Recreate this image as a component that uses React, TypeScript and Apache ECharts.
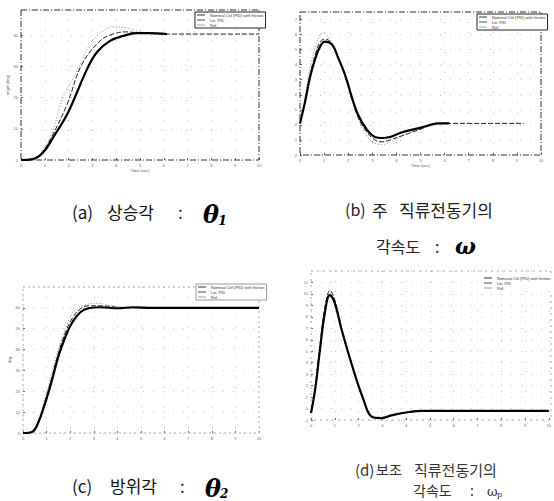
import React, { useEffect, useRef } from "react";
import * as echarts from "echarts";

// ---------- data ----------
const legendNames = ["Nominal Ctrl (PID) with friction", "Lin. PID", "Ref."];

// (a) elevation angle
const aSolidT = [0, 0.5, 0.92, 1.34, 1.93, 2.35, 2.77, 3.19, 3.74, 4.29, 4.87, 5.4, 6.13];
const aSolidY = [0, 0.3, 2.3, 7.1, 14.5, 21.6, 29, 34.5, 38.1, 39.7, 40.6, 40.6, 40.3];
const aDashT = [0, 0.5, 0.92, 1.34, 1.93, 2.56, 3.32, 3.87, 4.45, 5.0, 5.6, 6.2, 8, 10];
const aDashY = [0, 0.4, 2.8, 8.2, 17.7, 30.6, 38.1, 40.3, 41, 40.6, 40.4, 40.3, 40.3, 40.3];
const aDotT = [0, 0.5, 0.92, 1.34, 1.76, 2.35, 2.9, 3.45, 3.87, 4.45, 4.87, 5.4, 6.1];
const aDotY = [0, 0.5, 3.2, 9.5, 20, 28.4, 37.1, 41.3, 42.6, 42.3, 41.3, 40.6, 40.4];

// (b) main DC motor angular velocity
const bSolidT = [0, 0.21, 0.41, 0.62, 0.83, 1.04, 1.33, 1.58, 1.87, 2.16, 2.41, 2.78, 3.11, 3.4, 3.73, 4.27, 4.98, 5.52, 5.7, 6.2];
const bSolidY = [0.1, 1.53, 3.13, 4.33, 5.2, 5.53, 5.33, 4.47, 3.33, 1.8, 0.67, -0.33, -0.8, -0.87, -0.8, -0.47, -0.2, 0.05, 0.1, 0.1];
const bDashT = [0, 0.21, 0.41, 0.62, 0.83, 1.04, 1.33, 1.58, 1.87, 2.16, 2.41, 2.78, 3.11, 3.4, 3.73, 4.27, 4.98, 5.6, 6.0, 7, 8, 9.3];
const bDashY = [0.1, 1.6, 3.3, 4.6, 5.5, 5.7, 5.4, 4.5, 3.3, 1.7, 0.5, -0.5, -1.0, -1.13, -1.0, -0.7, -0.3, 0.05, 0.1, 0.1, 0.1, 0.1];
const bDotT = [0, 0.2, 0.4, 0.6, 0.8, 0.95, 1.2, 1.5, 1.8, 2.1, 2.4, 2.75, 3.1, 3.4, 3.8, 4.3, 5.0, 5.6, 6.2];
const bDotY = [0.1, 1.8, 3.7, 5.0, 5.9, 6.1, 5.8, 4.9, 3.5, 1.9, 0.5, -0.7, -1.2, -1.3, -1.1, -0.7, -0.25, 0.05, 0.1];

// (c) azimuth angle
const cSolidT = [0, 0.38, 0.64, 0.94, 1.23, 1.49, 1.79, 2.09, 2.43, 2.77, 3.28, 4, 4.68, 5.5, 7, 8.5, 10];
const cSolidY = [0, 0.5, 4.8, 14.4, 25.4, 36.4, 45.9, 53.1, 57.9, 59.8, 60.3, 59.8, 60.3, 60, 60, 60, 60];
const cDashT = [0, 0.38, 0.64, 0.94, 1.23, 1.49, 1.79, 2.09, 2.43, 2.77, 3.28, 4, 4.7, 5.5, 7, 10];
const cDashY = [0, 0.6, 5.2, 15.5, 27, 38, 48, 55, 59.5, 61, 61, 60.3, 60, 60, 60, 60];
const cDotT = [0, 0.38, 0.64, 0.94, 1.23, 1.49, 1.91, 2.21, 2.72, 3.15, 3.7, 4.5, 5.5];
const cDotY = [0, 0.7, 5.8, 17, 29, 40, 53.1, 58.9, 61.7, 62.2, 61.2, 60.2, 60];

// (d) auxiliary DC motor angular velocity
const dSolidT = [0, 0.17, 0.375, 0.58, 0.79, 1.0, 1.29, 1.75, 2.17, 2.58, 2.96, 3.42, 4.13, 4.67, 6, 8, 10];
const dSolidY = [-0.39, 1.6, 5.1, 8.3, 9.9, 9.2, 6.85, 3.6, 1.0, -0.74, -0.83, -0.57, -0.3, -0.2, -0.2, -0.2, -0.2];
const dDashT = [0, 0.17, 0.375, 0.58, 0.8, 1.0, 1.29, 1.75, 2.17, 2.58, 2.96, 3.42, 4.13, 4.67, 6, 10];
const dDashY = [-0.39, 1.8, 5.5, 8.8, 10.3, 9.5, 7.0, 3.7, 1.0, -0.7, -0.85, -0.6, -0.3, -0.2, -0.2, -0.2];
const dDotT = [0, 0.17, 0.375, 0.58, 0.8, 1.0, 1.29, 1.75, 2.17, 2.58, 3.0, 3.5, 4.2, 5, 7];
const dDotY = [-0.39, 1.7, 5.3, 8.6, 10.1, 9.4, 6.9, 3.6, 0.9, -0.75, -0.9, -0.6, -0.3, -0.2, -0.2];

// ---------- helpers ----------
const pairs = (t: number[], y: number[]) => t.map((x, i) => [x, y[i]]);

const panels = [
  { key: "a", solid: [aSolidT, aSolidY], dash: [aDashT, aDashY], dot: [aDotT, aDotY], yMin: 0, yMax: 48, yInt: 10, xName: "Time (sec)", yName: "angle [deg]" },
  { key: "b", solid: [bSolidT, bSolidY], dash: [bDashT, bDashY], dot: [bDotT, bDotY], yMin: -2, yMax: 7.5, yInt: 1, xName: "Time (sec)", yName: "" },
  { key: "c", solid: [cSolidT, cSolidY], dash: [cDashT, cDashY], dot: [cDotT, cDotY], yMin: 0, yMax: 70, yInt: 10, xName: "", yName: "deg" },
  { key: "d", solid: [dSolidT, dSolidY], dash: [dDashT, dDashY], dot: [dDotT, dDotY], yMin: -1, yMax: 12, yInt: 1, xName: "", yName: "" },
];

const gridBoxes = [
  { left: 21, top: 10, width: 238, height: 150 },
  { left: 300, top: 12, width: 241, height: 143 },
  { left: 23, top: 287, width: 236, height: 146 },
  { left: 311, top: 271, width: 240, height: 149 },
];

const legendBoxes = [
  { left: 195, top: 12 },
  { left: 477, top: 14 },
  { left: 196, top: 284 },
  { left: 482, top: 275 },
];

export default function App() {
  const ref = useRef<HTMLDivElement>(null);

  useEffect(() => {
    if (!ref.current) return;
    const chart = echarts.init(ref.current, null, { renderer: "svg" });

    const grid = gridBoxes.map((g) => ({ ...g, containLabel: false }));
    const xAxis = panels.map((p, i) => ({
      type: "value",
      gridIndex: i,
      min: 0,
      max: 10,
      interval: 1,
      name: p.xName,
      nameLocation: "middle",
      nameGap: 8,
      nameTextStyle: { fontSize: 4, color: "#555" },
      axisLine: { show: false, onZero: false },
      axisTick: { show: true, inside: true, length: 2, lineStyle: { color: "#666" } },
      axisLabel: { fontSize: 4, color: "#666", margin: 3 },
      splitLine: { show: true, lineStyle: { color: "#c8c8c8", type: [1, 9], width: 1 } },
    }));
    const yAxis = panels.map((p, i) => ({
      type: "value",
      gridIndex: i,
      min: p.yMin,
      max: p.yMax,
      interval: p.yInt,
      name: p.yName,
      nameLocation: "middle",
      nameRotate: 90,
      nameGap: 12,
      nameTextStyle: { fontSize: 4, color: "#555" },
      axisLine: { show: false, onZero: false },
      axisTick: { show: true, inside: true, length: 2, lineStyle: { color: "#666" } },
      axisLabel: { fontSize: 4, color: "#666", margin: 3, showMaxLabel: false },
      splitLine: { show: true, lineStyle: { color: "#c8c8c8", type: [1, 9], width: 1 } },
    }));

    const series: any[] = [];
    panels.forEach((p, i) => {
      series.push({
        type: "line",
        name: legendNames[0] + " [" + p.key + "]",
        xAxisIndex: i,
        yAxisIndex: i,
        data: pairs(p.solid[0], p.solid[1]),
        showSymbol: false,
        smooth: 0.4,
        lineStyle: { color: "#000", width: 2.2 },
        itemStyle: { color: "#000" },
        z: 4,
      });
      series.push({
        type: "line",
        name: legendNames[1] + " [" + p.key + "]",
        xAxisIndex: i,
        yAxisIndex: i,
        data: pairs(p.dash[0], p.dash[1]),
        showSymbol: false,
        smooth: 0.4,
        lineStyle: { color: "#222", width: 1, type: [5, 2] },
        itemStyle: { color: "#222" },
        z: 3,
      });
      series.push({
        type: "line",
        name: legendNames[2] + " [" + p.key + "]",
        xAxisIndex: i,
        yAxisIndex: i,
        data: pairs(p.dot[0], p.dot[1]),
        showSymbol: false,
        smooth: 0.4,
        lineStyle: { color: "#888", width: 1, type: [1, 2] },
        itemStyle: { color: "#888" },
        z: 2,
      });
    });

    const legend = panels.map((p, i) => ({
      orient: "vertical",
      left: legendBoxes[i].left,
      top: legendBoxes[i].top,
      data: legendNames.map((n) => n + " [" + p.key + "]"),
      formatter: (name: string) => name.replace(/ \[[a-d]\]$/, ""),
      itemWidth: 8,
      itemHeight: 3,
      itemGap: 1,
      padding: [1, 2, 1, 2],
      borderColor: i < 2 ? "#222" : "#999",
      borderWidth: i < 3 ? 1 : 0,
      backgroundColor: "#fff",
      icon: "path://M0,1 L10,1 L10,2 L0,2 Z",
      textStyle: { fontSize: 4, color: "#333", padding: 0 },
      selectedMode: false,
    }));

    const frame = (i: number, stroke: string, dash: number[]) => ({
      type: "rect",
      shape: { x: gridBoxes[i].left, y: gridBoxes[i].top, width: gridBoxes[i].width, height: gridBoxes[i].height },
      style: { fill: "none", stroke, lineWidth: 1, lineDash: dash },
      silent: true,
      z: 1,
    });

    const ko = "'Noto Sans CJK KR', 'Noto Sans', sans-serif";
    const txt = (text: string, x: number, y: number, size: number, extra: any = {}) => ({
      type: "text",
      x,
      y,
      style: { text, fontSize: size, fontFamily: ko, fill: "#111", textVerticalAlign: "middle", ...extra },
    });
    const greek = (text: string, x: number, y: number, size: number) => ({
      type: "text",
      x,
      y,
      style: { text, fontSize: size, fontFamily: "'DejaVu Serif', serif", fontWeight: "bold", fontStyle: "italic", fill: "#000", textVerticalAlign: "middle" },
    });

    const graphic = [
      frame(0, "#333", [6, 2, 1, 2]),
      frame(1, "#333", [6, 2, 1, 2]),
      frame(2, "#aaa", [2, 3]),
      frame(3, "#aaa", [2, 4]),
      // (a)
      txt("(a)", 72, 211, 17),
      txt("상승각", 107, 211, 17),
      txt(":", 178, 211, 17),
      greek("θ", 203, 214, 24),
      greek("1", 218, 220, 13),
      // (b)
      txt("(b)", 345, 209, 16, { fill: "#222" }),
      txt("주", 372, 209, 17, { fill: "#222" }),
      txt("직류전동기의", 399, 209, 17, { fill: "#222" }),
      txt("각속도", 376, 246, 16, { fill: "#222" }),
      txt(":", 435, 246, 16, { fill: "#222" }),
      greek("ω", 455, 246, 22),
      // (c)
      txt("(c)", 72, 485, 17),
      txt("방위각", 110, 485, 17),
      txt(":", 180, 485, 17),
      greek("θ", 205, 488, 24),
      greek("2", 220, 494, 12),
      // (d)
      txt("(d)", 355, 469, 15, { fill: "#333" }),
      txt("보조", 376, 469, 14, { fill: "#333" }),
      txt("직류전동기의", 414, 469, 15, { fill: "#333" }),
      txt("각속도", 413, 490, 14, { fill: "#333" }),
      txt(":", 470, 490, 14, { fill: "#333" }),
      {
        type: "text",
        x: 487,
        y: 491,
        style: { text: "ω", fontSize: 13, fontFamily: "'DejaVu Serif', serif", fill: "#333", textVerticalAlign: "middle" },
      },
      {
        type: "text",
        x: 497,
        y: 494,
        style: { text: "p", fontSize: 8, fontFamily: "'DejaVu Serif', serif", fill: "#333", textVerticalAlign: "middle" },
      },
    ];

    chart.setOption({
      animation: false,
      backgroundColor: "#fff",
      grid,
      xAxis,
      yAxis,
      legend,
      series,
      graphic,
    });

    return () => chart.dispose();
  }, []);

  return (
    <div
      ref={ref}
      style={{ position: "fixed", left: 0, top: 0, width: 554, height: 501, background: "#fff" }}
    />
  );
}
